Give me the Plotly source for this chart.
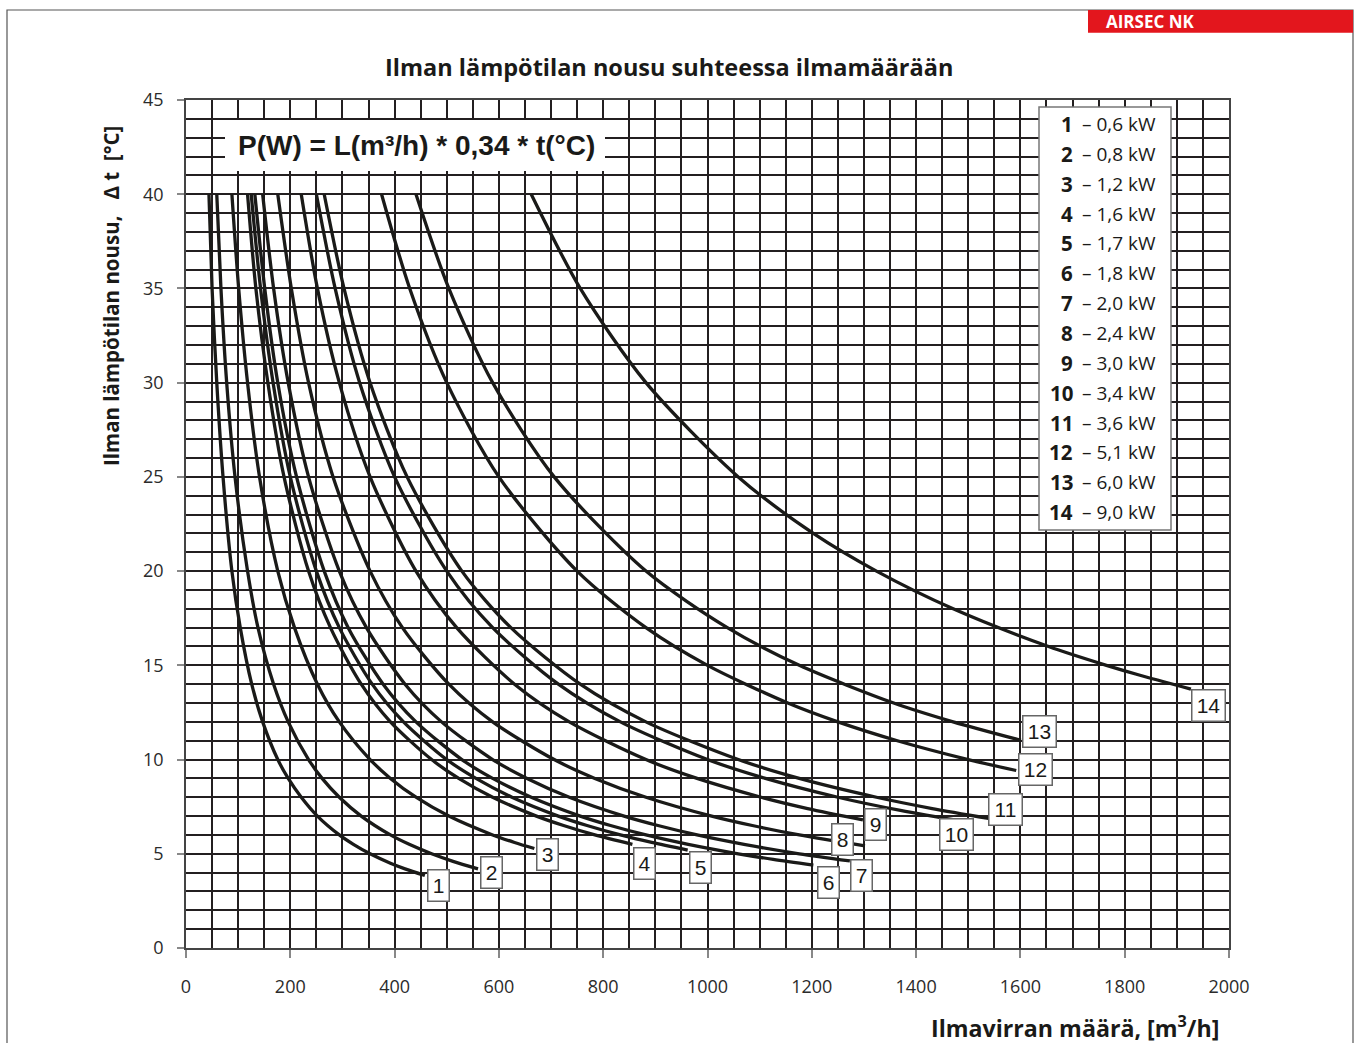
import plotly.graph_objects as go

# ---------------- data ----------------
power_labels = ["0,6", "0,8", "1,2", "1,6", "1,7", "1,8", "2,0", "2,4", "3,0", "3,4", "3,6", "5,1", "6,0", "9,0"]
curve_ids = ["1", "2", "3", "4", "5", "6", "7", "8", "9", "10", "11", "12", "13", "14"]

L1 = [44, 50, 59, 71, 88, 104, 126, 147, 176, 196, 221, 252, 294, 321, 353, 392, 420, 458]
T1 = [40, 35, 30, 25, 20, 17, 14, 12, 10, 9, 8, 7, 6, 5.5, 5, 4.5, 4.2, 3.85]
L2 = [59, 67, 78, 94, 118, 138, 168, 196, 235, 261, 294, 336, 392, 428, 471, 512, 560]
T2 = [40, 35, 30, 25, 20, 17, 14, 12, 10, 9, 8, 7, 6, 5.5, 5, 4.6, 4.2]
L3 = [88, 101, 118, 141, 176, 208, 252, 294, 353, 392, 441, 504, 588, 630, 668]
T3 = [40, 35, 30, 25, 20, 17, 14, 12, 10, 9, 8, 7, 6, 5.6, 5.28]
L4 = [118, 134, 157, 188, 235, 277, 336, 392, 471, 523, 588, 672, 724, 784, 856]
T4 = [40, 35, 30, 25, 20, 17, 14, 12, 10, 9, 8, 7, 6.5, 6, 5.5]
L5 = [125, 143, 167, 200, 250, 294, 357, 417, 500, 556, 625, 714, 769, 833, 893, 962]
T5 = [40, 35, 30, 25, 20, 17, 14, 12, 10, 9, 8, 7, 6.5, 6, 5.6, 5.2]
L6 = [132, 151, 176, 212, 265, 311, 378, 441, 529, 588, 662, 756, 814, 882, 963, 1059, 1126, 1203]
T6 = [40, 35, 30, 25, 20, 17, 14, 12, 10, 9, 8, 7, 6.5, 6, 5.5, 5, 4.7, 4.4]
L7 = [147, 168, 196, 235, 294, 346, 420, 490, 588, 654, 735, 840, 905, 980, 1070, 1176, 1273]
T7 = [40, 35, 30, 25, 20, 17, 14, 12, 10, 9, 8, 7, 6.5, 6, 5.5, 5, 4.62]
L8 = [176, 202, 235, 282, 353, 415, 504, 588, 706, 784, 882, 1008, 1086, 1176, 1302]
T8 = [40, 35, 30, 25, 20, 17, 14, 12, 10, 9, 8, 7, 6.5, 6, 5.42]
L9 = [221, 252, 294, 353, 441, 519, 630, 735, 882, 980, 1103, 1192, 1298]
T9 = [40, 35, 30, 25, 20, 17, 14, 12, 10, 9, 8, 7.4, 6.8]
L10 = [250, 286, 333, 400, 500, 588, 714, 833, 1000, 1111, 1250, 1370, 1500]
T10 = [40, 35, 30, 25, 20, 17, 14, 12, 10, 9, 8, 7.3, 6.67]
L11 = [265, 303, 353, 424, 529, 623, 756, 882, 1059, 1176, 1324, 1431, 1539]
T11 = [40, 35, 30, 25, 20, 17, 14, 12, 10, 9, 8, 7.4, 6.88]
L12 = [375, 429, 500, 600, 750, 882, 1000, 1154, 1250, 1364, 1500, 1592]
T12 = [40, 35, 30, 25, 20, 17, 15, 13, 12, 11, 10, 9.42]
L13 = [441, 504, 588, 706, 882, 1038, 1176, 1357, 1471, 1601]
T13 = [40, 35, 30, 25, 20, 17, 15, 13, 12, 11.02]
L14 = [662, 756, 882, 1059, 1203, 1324, 1471, 1654, 1765, 1826, 1927]
T14 = [40, 35, 30, 25, 22, 20, 18, 16, 15, 14.5, 13.74]

x_ticks = [0, 200, 400, 600, 800, 1000, 1200, 1400, 1600, 1800, 2000]
y_ticks = [0, 5, 10, 15, 20, 25, 30, 35, 40, 45]

curves_L = [L1, L2, L3, L4, L5, L6, L7, L8, L9, L10, L11, L12, L13, L14]
curves_T = [T1, T2, T3, T4, T5, T6, T7, T8, T9, T10, T11, T12, T13, T14]

# ---------------- layout geometry (page pixels) ----------------
FW, FH = 1354, 1043
PL, PT, PR, PB = 186, 100, 1229, 948          # plot area edges
ML, MT, MR, MB = PL, PT, FW - PR, FH - PB
PW, PH = PR - PL, PB - PT

def px(xp):
    return (xp - PL) / PW

def py(yp):
    return (PB - yp) / PH

def dx(xp):
    return (xp - PL) / PW * 2000

def dy(yp):
    return (PB - yp) / PH * 45

INK = "#1a1a18"
GRID = "#231f20"
SANS = "Open Sans, Noto Sans, sans-serif"
ARIAL = "Liberation Sans, Arial, sans-serif"

fig = go.Figure()
for L, T in zip(curves_L, curves_T):
    fig.add_trace(go.Scatter(x=L, y=T, mode="lines",
                             line=dict(color=INK, width=3.3, shape="spline", smoothing=0.8),
                             showlegend=False, hoverinfo="skip"))

shapes = []
# outer frame
shapes.append(dict(type="rect", xref="paper", yref="paper", x0=px(7), x1=px(1353), y0=py(1070), y1=py(10),
                   line=dict(color="#555", width=1.2), fillcolor="rgba(0,0,0,0)", layer="below"))
# red tag
shapes.append(dict(type="rect", xref="paper", yref="paper", x0=px(1088), x1=px(1353), y0=py(32.7), y1=py(10),
                   line=dict(width=0), fillcolor="#e3161d", layer="above"))
# formula white box
shapes.append(dict(type="rect", xref="paper", yref="paper", x0=px(225), x1=px(605), y0=py(171), y1=py(120),
                   line=dict(width=0), fillcolor="white", layer="above"))
# legend box
shapes.append(dict(type="rect", xref="paper", yref="paper", x0=px(1039), x1=px(1171), y0=py(530), y1=py(107),
                   line=dict(color="#777", width=1.5), fillcolor="white", layer="above"))

ann = []
ann.append(dict(text="<b>AIRSEC NK</b>", xref="paper", yref="paper", x=px(1104), y=py(22), xanchor="left",
                yanchor="middle", showarrow=False, font=dict(family=SANS, size=17, color="white")))
ann.append(dict(text="<b>Ilman lämpötilan nousu suhteessa ilmamäärään</b>", xref="paper", yref="paper",
                x=px(669), y=py(67), xanchor="center", yanchor="middle", showarrow=False,
                font=dict(family=SANS, size=23.5, color=INK)))
ann.append(dict(text="<b>Ilman lämpötilan nousu,   Δ t  [°C]</b>", xref="paper", yref="paper",
                x=px(111), y=py(296), xanchor="center", yanchor="middle", textangle=-90, showarrow=False,
                font=dict(family=SANS, size=20.5, color=INK)))
ann.append(dict(text="<b>Ilmavirran määrä, [m<sup>3</sup>/h]</b>", xref="paper", yref="paper",
                x=px(1221), y=py(1027), xanchor="right", yanchor="middle", showarrow=False,
                font=dict(family=SANS, size=23.2, color=INK)))
ann.append(dict(text="<b>P(W) = L(m³/h) * 0,34 * t(°C)</b>", xref="paper", yref="paper",
                x=px(416), y=py(145), xanchor="center", yanchor="middle", showarrow=False,
                font=dict(family=ARIAL, size=28, color=INK)))

# legend rows
for i, (cid, pw) in enumerate(zip(curve_ids, power_labels)):
    yrow = 124 + i * 29.85
    ann.append(dict(text="<b>" + cid + "</b>", xref="paper", yref="paper", x=px(1075), y=py(yrow),
                    xanchor="right", yanchor="middle", showarrow=False,
                    font=dict(family=SANS, size=20.5, color=INK)))
    ann.append(dict(text="– " + pw + " kW", xref="paper", yref="paper", x=px(1158), y=py(yrow),
                    xanchor="right", yanchor="middle", showarrow=False,
                    font=dict(family=SANS, size=19, color=INK)))

# curve number boxes (page-pixel centres)
label_pos = [(438.5, 885), (491, 872.5), (547, 854), (644, 863), (700.5, 867.5), (828, 882.5), (861.5, 875),
             (842.5, 839.5), (875, 824.5), (956.5, 834.5), (1005.5, 809.5), (1035, 769), (1039, 731), (1208.5, 705)]
for cid, (cx, cy) in zip(curve_ids, label_pos):
    w = 20 if len(cid) == 1 else 32
    ann.append(dict(text=cid, xref="x", yref="y", x=dx(cx), y=dy(cy), xanchor="center", yanchor="middle",
                    showarrow=False, width=w, height=30, bgcolor="white", bordercolor="#666",
                    borderwidth=1.5, borderpad=0, font=dict(family=ARIAL, size=21, color=INK)))

axis_common = dict(showgrid=True, gridcolor=GRID, gridwidth=1.5, zeroline=False,
                   showline=True, linecolor="#444", linewidth=1.5, mirror=True,
                   ticks="outside", tickcolor="#888", tickwidth=1.5,
                   tickfont=dict(family=SANS, size=18, color="#2b2b2b"))

fig.update_layout(
    width=FW, height=FH, margin=dict(l=ML, r=MR, t=MT, b=MB, pad=0),
    paper_bgcolor="white", plot_bgcolor="white",
    shapes=shapes, annotations=ann, showlegend=False,
    xaxis=dict(range=[0, 2000], tickvals=x_ticks, ticklen=8, ticklabelstandoff=14,
               minor=dict(dtick=50, tick0=0, showgrid=True, gridcolor=GRID, gridwidth=1.5, ticks=""),
               **axis_common),
    yaxis=dict(range=[0, 45], tickvals=y_ticks, ticklen=7, ticklabelstandoff=10,
               minor=dict(dtick=1, tick0=0, showgrid=True, gridcolor=GRID, gridwidth=1.5, ticks=""),
               **axis_common),
)

fig.write_html("out.html", config={"displayModeBar": False},
               post_script="document.body.style.margin='0';document.body.style.overflow='hidden';")
